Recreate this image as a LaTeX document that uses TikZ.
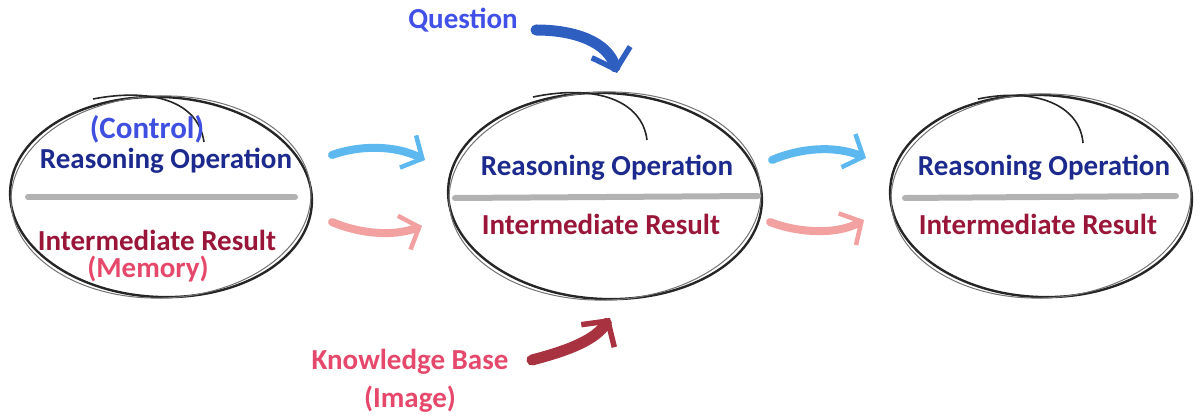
\documentclass[tikz,border=0pt]{standalone}
\usepackage{fontspec}
\setmainfont{Carlito}
\usetikzlibrary{arrows.meta,shapes.geometric}
\definecolor{opblue}{HTML}{1C2A8E}
\definecolor{ctlblue}{HTML}{3F4FE0}
\definecolor{resred}{HTML}{9A1638}
\definecolor{mempink}{HTML}{E5486A}
\definecolor{qblue}{HTML}{4150E6}
\definecolor{qarrow}{HTML}{2E5EC0}
\definecolor{kbarrow}{HTML}{A8323F}
\definecolor{lblue}{HTML}{5DB8F0}
\definecolor{lpink}{HTML}{F2A0A0}
\tikzset{
  lbl/.style={font=\bfseries\fontsize{29}{32}\selectfont, inner sep=0pt},
  ctl/.style={font=\bfseries\fontsize{31}{34}\selectfont, inner sep=0pt},
  sketch/.style={draw=black!85, line width=2.4pt},
  sketchthin/.style={draw=black!55, line width=1pt},
  divider/.style={draw=black!30, line width=6pt, line cap=round},
  flow/.style={line width=8pt, line cap=round, -{Straight Barb[length=16pt,width=36pt,line width=4.5pt]}},
  bigflow/.style={line width=11pt, line cap=round, -{Straight Barb[length=18pt,width=40pt,line width=5.5pt]}},
}
\begin{document}
\begin{tikzpicture}[x=1pt,y=-1pt]
\useasboundingbox (0,0) rectangle (1200,419);
% ellipses
\node[ellipse, minimum width=302pt, minimum height=201pt, inner sep=0pt] (e1) at (161,197) {};
\node[ellipse, minimum width=314pt, minimum height=207pt, inner sep=0pt] (e2) at (605,196) {};
\node[ellipse, minimum width=303pt, minimum height=203pt, inner sep=0pt] (e3) at (1041,196) {};
\foreach \e/\rx/\ry/\cx/\cy in {e1/151/100/161/197, e2/157/103/605/196, e3/151/101/1041/196}{
  \draw[sketch, rotate around={-2.5:(\cx,\cy)}] (\cx,\cy) ellipse [x radius=\rx, y radius=\ry];
  \draw[sketchthin, rotate around={2:(\cx,\cy)}] (\cx,\cy) ellipse [x radius=\rx-1, y radius=\ry+1];
}
% loop tails
\draw[sketch, line width=1.6pt] (93,99) .. controls (150,88) and (198,100) .. (204,142);
\draw[sketch, line width=1.6pt] (533,97) .. controls (595,84) and (642,100) .. (647,140);
\draw[sketch, line width=1.6pt] (978,99) .. controls (1035,87) and (1080,105) .. (1083,143);
% dividers
\draw[divider] (28,197) -- (295,197);
\draw[divider] (455,198) -- (758,196);
\draw[divider] (905,198) -- (1176,196);
% texts
\node[ctl, text=ctlblue] (c1) at (147,129) {(Control)};
\node[lbl, text=opblue] (r1) at (166,161) {Reasoning Operation};
\node[lbl, text=resred] (i1) at (157,240) {Intermediate Result};
\node[lbl, text=mempink] (m1) at (148,269) {(Memory)};
\node[lbl, text=opblue] (r2) at (607,168) {Reasoning Operation};
\node[lbl, text=resred] (i2) at (601,224) {Intermediate Result};
\node[lbl, text=opblue] (r3) at (1044,168) {Reasoning Operation};
\node[lbl, text=resred] (i3) at (1038,224) {Intermediate Result};
\node[lbl, text=qblue] (q) at (463,20) {Question};
\node[lbl, text=mempink] (kb) at (410,362) {Knowledge Base};
\node[lbl, text=mempink] (img) at (410,399) {(Image)};
% arrow end points
\coordinate (qs) at (536,30);
\coordinate (qe) at (617,73);
\coordinate (ks) at (532,360);
\coordinate (ke) at (610,318);
\coordinate (b1s) at (332,155); \coordinate (b1e) at (425,160);
\coordinate (p1s) at (332,222); \coordinate (p1e) at (422,226);
\coordinate (b2s) at (772,160); \coordinate (b2e) at (866,158);
\coordinate (p2s) at (770,222); \coordinate (p2e) at (864,220);
% arrows
\draw[bigflow, draw=qarrow] (qs) .. controls (575,30) and (608,42) .. (qe);
\draw[bigflow, draw=kbarrow] (ks) .. controls (570,350) and (595,340) .. (ke);
\draw[flow, draw=lblue] (b1s) .. controls (360,145) and (395,145) .. (b1e);
\draw[flow, draw=lpink] (p1s) .. controls (355,232) and (390,238) .. (p1e);
\draw[flow, draw=lblue] (b2s) .. controls (800,148) and (835,145) .. (b2e);
\draw[flow, draw=lpink] (p2s) .. controls (795,232) and (835,236) .. (p2e);
\end{tikzpicture}
\end{document}
